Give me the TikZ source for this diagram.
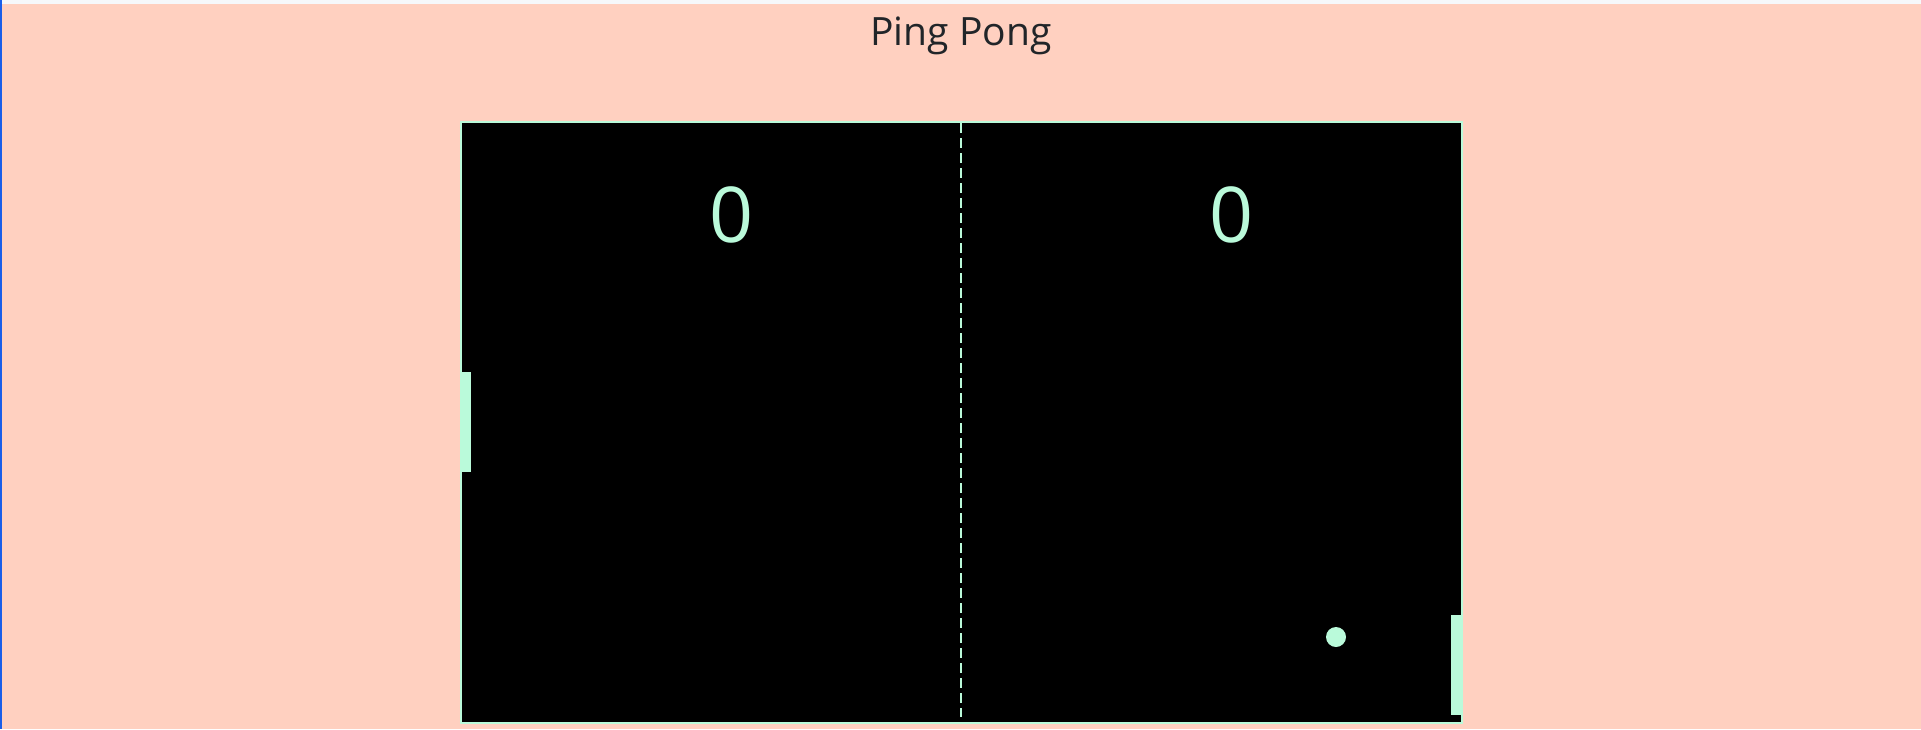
\documentclass[tikz,border=0pt]{standalone}
\usepackage{fontspec}
\setmainfont{Open Sans}
\usetikzlibrary{positioning}
\definecolor{peach}{HTML}{FFD0C0}
\definecolor{mint}{HTML}{BAFADA}
\definecolor{ink}{HTML}{212529}
\definecolor{topbar}{HTML}{F6F8FB}
\definecolor{edge}{HTML}{1A5EE8}

\begin{document}
\begin{tikzpicture}[x=1pt,y=-1pt,
            board/.style={draw=mint,line width=2pt,fill=black,rectangle,inner sep=0pt,outer sep=0pt,anchor=north west},
            paddle/.style={fill=mint,rectangle,inner sep=0pt,minimum width=10.5pt,minimum height=100pt},
            ball/.style={fill=mint,circle,inner sep=0pt,minimum size=20pt},
            score/.style={text=mint,inner sep=0pt,font=\fontsize{77}{80}\selectfont},
            net/.style={draw=mint,line width=2pt,dash pattern=on 10pt off 5pt}
          ]
          \useasboundingbox (0,0) rectangle (1921,729);
          \fill[peach] (0,0) rectangle (1921,729);
          \fill[topbar] (0,0) rectangle (1921,4);
          \fill[edge] (0,0) rectangle (1.5,729);

          %title
          \node[text=ink,anchor=base,font=\fontsize{39}{44}\selectfont] (title) at (961,45) {Ping Pong};

          %table
          \node[board,minimum width=1001.5pt,minimum height=601pt] (table) at (460.5,122) {};
          \coordinate (nettop) at (961,123);
          \coordinate (netbot) at (961,717);
          \path[net] (nettop) -- (netbot);

          %scores
          \node[score] (left score) at (732,215) {0};
          \node[score] (right score) at (1231,215) {0};

          %paddles and ball
          \node[paddle] (left paddle) at (465.75,422) {};
          \node[paddle] (right paddle) at (1456.25,665) {};
          \node[ball] (ball) at (1336,637) {};
      \end{tikzpicture}
\end{document}
